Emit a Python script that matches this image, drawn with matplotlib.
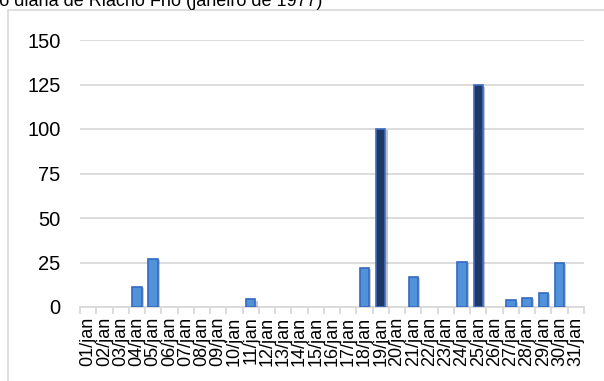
import matplotlib
matplotlib.use('Agg')
import matplotlib.pyplot as plt
import matplotlib.patheffects as pe
from matplotlib.patches import Rectangle
import numpy as np

plt.rcParams['font.family'] = ['Liberation Sans', 'DejaVu Sans']

# precipitação diária (mm) - janeiro de 1977
dias = ['%02d/jan' % d for d in range(1, 32)]
chuva = [0, 0, 0, 11.5, 27, 0, 0, 0, 0, 0,
         4.3, 0, 0, 0, 0, 0, 0, 22, 100, 0,
         17, 0, 0, 25.5, 124.5, 0, 3.8, 5.2, 8, 25, 0]
y_ticks = [0, 25, 50, 75, 100, 125, 150]

W, H = 604, 381
fig = plt.figure(figsize=(W / 100, H / 100), dpi=100)

# moldura do gráfico (cortada à direita e embaixo)
fig.patches.append(Rectangle((8 / W, -0.1), 1.2, 1.1 - 10 / H,
                             transform=fig.transFigure, fill=False,
                             edgecolor='#D9D9D9', linewidth=1.2))

fig.text(322 / W, 1 - 6 / H, 'Precipitação diária de Riacho Frio (janeiro de 1977)',
         ha='right', va='baseline', fontsize=13)

ax = fig.add_axes([80 / W, (H - 307) / H, 504 / W, 267 / H])

x = np.arange(len(dias))
cores = ['#1F3864' if v >= 100 else '#5193DA' for v in chuva]
bordas = [('#3F6DC4' if v >= 100 else '#3568C0') if v > 0 else 'none' for v in chuva]
barras = ax.bar(x, chuva, width=0.58, color=cores, edgecolor=bordas, linewidth=1.2, zorder=3)
for b, v in zip(barras, chuva):
    if v > 0:
        b.set_path_effects([pe.SimplePatchShadow(offset=(1.5, -1), alpha=0.25), pe.Normal()])

ax.set_xlim(-0.5, len(dias) - 0.5)
ax.set_ylim(0, 150)
ax.set_yticks(y_ticks)
ax.yaxis.grid(True, color='#D9D9D9', linewidth=1.3)
ax.set_axisbelow(True)

for s in ['top', 'right', 'left']:
    ax.spines[s].set_visible(False)
ax.spines['bottom'].set_color('#D9D9D9')
ax.spines['bottom'].set_linewidth(1.3)

ax.set_xticks(x)
ax.set_xticklabels(dias, rotation=90, fontsize=13)
ax.set_xticks(np.arange(len(dias) + 1) - 0.5, minor=True)
ax.tick_params(axis='x', which='major', length=0, pad=7)
ax.tick_params(axis='x', which='minor', length=5, color='#D9D9D9', width=1.3)
ax.tick_params(axis='y', length=0, pad=14, labelsize=14.5)

fig.savefig('out.png', dpi=100)
